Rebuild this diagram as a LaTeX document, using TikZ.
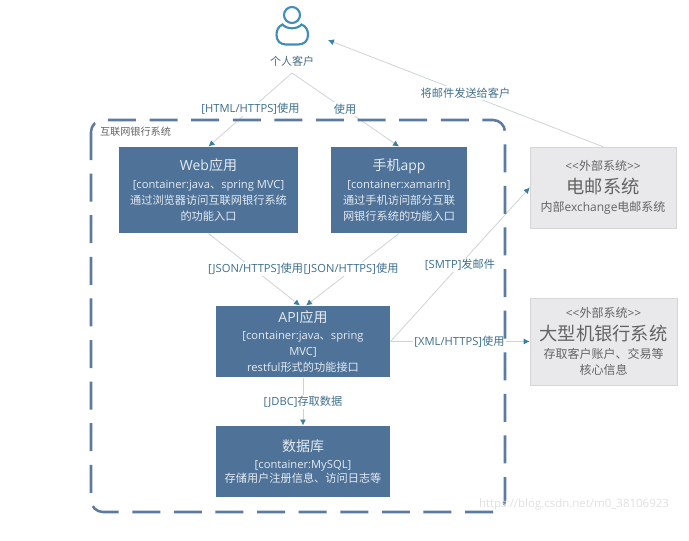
\documentclass[tikz,border=0pt]{standalone}
\usepackage{fontspec}
\setmainfont{Noto Sans CJK SC}
\newfontfamily\en{Open Sans}
\usetikzlibrary{arrows.meta}

\definecolor{boxblue}{HTML}{4F7299}
\definecolor{boxtext}{HTML}{E4EAF0}
\definecolor{extgray}{HTML}{E9E9EB}
\definecolor{exttext}{HTML}{636363}
\definecolor{labelteal}{HTML}{3E6F8E}
\definecolor{linegray}{HTML}{CDD4D6}
\definecolor{tipteal}{HTML}{3A7FA3}
\definecolor{dashblue}{HTML}{5E7A9F}
\definecolor{iconblue}{HTML}{3F8DB8}

\newcommand{\boxtitle}{\fontsize{10.5}{15}\selectfont}
\newcommand{\exttitle}{\fontsize{13.7}{18}\selectfont}
\newcommand{\exttag}{{\en <{}<}外部系统{\en >{}>}}

\tikzset{every picture/.style={line width=0.75pt},
  appbox/.style={fill=boxblue,text=boxtext,align=center,inner sep=0pt,font=\fontsize{8.4}{12}\selectfont},
  extbox/.style={fill=extgray,draw=extgray!92!black,line width=0.4pt,text=exttext,align=center,inner sep=0pt,font=\fontsize{9}{12}\selectfont},
  linklabel/.style={fill=white,text=labelteal,inner sep=1pt,font=\fontsize{8.4}{10}\selectfont},
  link/.style={draw=linegray,line width=0.6pt,-{Latex[color=tipteal,length=4.5pt,width=4.5pt]}}
}

\begin{document}
\begin{tikzpicture}[x=0.75pt,y=0.75pt,yscale=-1,xscale=1]
\useasboundingbox (0,0) rectangle (689,540);

% customer icon
\draw [iconblue,line width=1.6pt] (292,15) circle [radius=8];
\draw [iconblue,line width=1.6pt] (282.5,24.5) .. controls (278,26.5) and (276.5,30.5) .. (276.5,35) .. controls (276.5,41) and (280.5,44.5) .. (286,44.5) -- (298,44.5) .. controls (304,44.5) and (308,41) .. (308,35) .. controls (308,30.5) and (306.5,26.5) .. (301.5,24.5) .. controls (297,29.5) and (287,29.5) .. (282.5,24.5) -- cycle;
\node (customer) at (292,61) [text=labelteal!70!exttext,inner sep=1pt,font=\fontsize{8.25}{10}\selectfont] {个人客户};
\coordinate (customertip) at (328,40);

% containers
\node (webapp) at (208.5,190) [appbox,minimum width=134.25pt,minimum height=64.5pt] {{\boxtitle {\en Web}应用}\\[1pt] {\en [container:java}、{\en spring MVC]}\\ 通过浏览器访问互联网银行系统\\ 的功能入口};
\node (mobileapp) at (399,190) [appbox,minimum width=102pt,minimum height=64.5pt] {{\boxtitle 手机{\en app}}\\[1pt] {\en [container:xamarin]}\\ 通过手机访问部分互联\\ 网银行系统的功能入口};
\node (apiapp) at (303,341.5) [appbox,minimum width=130.5pt,minimum height=53.25pt] {{\boxtitle {\en API}应用}\\[0.5pt] {\en [container:java}、{\en spring}\\ {\en MVC]}\\ {\en restful}形式的功能接口};
\node (database) at (303,461.5) [appbox,minimum width=130.5pt,minimum height=53.25pt] {{\boxtitle 数据库}\\[1pt] {\en [container:MySQL]}\\[-1.5pt] 存储用户注册信息、访问日志等};

% external systems
\node (mailsys) at (603,187.5) [extbox,minimum width=109.5pt,minimum height=60.75pt] {\exttag\\[4pt] {\exttitle 电邮系统}\\[2pt] 内部{\en exchange}电邮系统};
\node (mainframe) at (603.5,341.5) [extbox,minimum width=110.25pt,minimum height=65.25pt] {\exttag\\[4pt] {\exttitle 大型机银行系统}\\[2pt] 存取客户账户、交易等\\ 核心信息};

% connectors
\coordinate (customerout) at ([yshift=3.75pt]customer.south);
\draw [link] (customerout) -- (webapp.north);
\draw [link] (customerout) -- (mobileapp.north);
\draw [link] (mailsys.north) -- (customertip);
\draw [link] (webapp.south) -- ([xshift=-2.25pt]apiapp.north);
\draw [link] (mobileapp.south) -- ([xshift=2.25pt]apiapp.north);
\draw [link] (apiapp.south) -- (database.north);
\draw [link] (apiapp.east) -- (mailsys.west);
\draw [link] (apiapp.east) -- (mainframe.west);

% connector labels
\node (htmllabel) at (250.5,109) [linklabel] {{\en [HTML/HTTPS]}使用};
\node (uselabel) at (345,109) [linklabel] {使用};
\node (sendlabel) at (465.5,93) [linklabel] {将邮件发送给客户};
\node (jsonleft) at (255.5,269) [linklabel] {{\en [JSON/HTTPS]}使用};
\node (jsonright) at (351,269) [linklabel] {{\en [JSON/HTTPS]}使用};
\node (smtplabel) at (460,265) [linklabel] {{\en [SMTP]}发邮件};
\node (xmllabel) at (459.5,342) [linklabel] {{\en [XML/HTTPS]}使用};
\node (jdbclabel) at (303,402) [linklabel] {{\en [JDBC]}存取数据};

% system boundary
\draw [dashblue,line width=1.9pt,rounded corners=9pt,dash pattern=on 21pt off 10.2pt] (91,120) rectangle (505,512);
\node (bankname) at (135.5,132) [text=exttext,inner sep=0pt,font=\fontsize{7.6}{10}\selectfont] {互联网银行系统};

\node (watermark) at (574,505) [text=black!12,inner sep=0pt,font=\en\fontsize{8.6}{10}\selectfont] {https://blog.csdn.net/m0\_38106923};
\end{tikzpicture}
\end{document}
